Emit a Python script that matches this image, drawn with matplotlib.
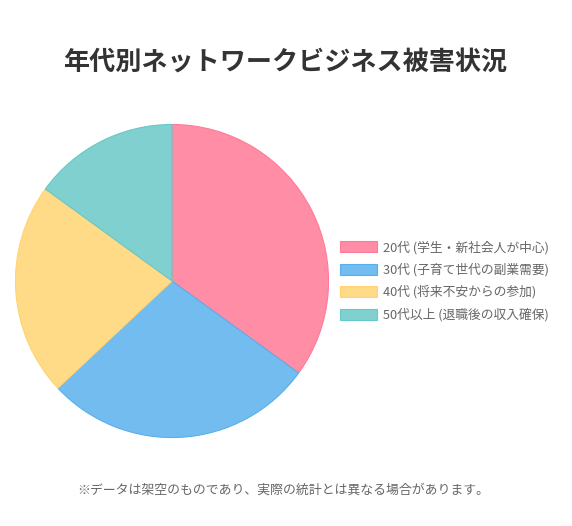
import matplotlib
matplotlib.use('Agg')
import matplotlib.pyplot as plt

plt.rcParams['font.family'] = ['Noto Sans CJK JP', 'DejaVu Sans']

labels = ['20代 (学生・新社会人が中心)', '30代 (子育て世代の副業需要)',
          '40代 (将来不安からの参加)', '50代以上 (退職後の収入確保)']
values = [35, 28, 22, 15]
fill_colors = ['#FF8DA6', '#72BCEF', '#FFDA87', '#80D0D0']
edge_colors = ['#FF7A96', '#58AFEC', '#FFD470', '#66C8C8']

W, H = 572, 526
fig = plt.figure(figsize=(W / 100, H / 100), dpi=100)

cx, cy, r = 172, 281, 157
ax = fig.add_axes([(cx - r) / W, 1 - (cy + r) / H, 2 * r / W, 2 * r / H])
wedges, _ = ax.pie(values, colors=fill_colors, startangle=90, counterclock=False,
                   radius=1, wedgeprops=dict(linewidth=0.8))
for w, ec in zip(wedges, edge_colors):
    w.set_edgecolor(ec)
ax.set_xlim(-1.003, 1.003)
ax.set_ylim(-1.003, 1.003)
ax.set_aspect('equal')
ax.axis('off')

fig.text(285 / W, 1 - 62 / H, '年代別ネットワークビジネス被害状況',
         ha='center', va='center', fontsize=18.8, fontweight='bold', color='#333333')

fig.legend(wedges, labels, loc='center left', bbox_to_anchor=(340 / W, 1 - 281 / H),
           frameon=False, fontsize=9.2, labelcolor='#666666',
           handlelength=2.9, handleheight=0.95, handletextpad=0.45,
           labelspacing=0.7, borderaxespad=0, borderpad=0)

fig.text(283 / W, 1 - 490 / H, '※データは架空のものであり、実際の統計とは異なる場合があります。',
         ha='center', va='center', fontsize=9.3, color='#666666')

fig.savefig('out.png', dpi=100, facecolor='white')
